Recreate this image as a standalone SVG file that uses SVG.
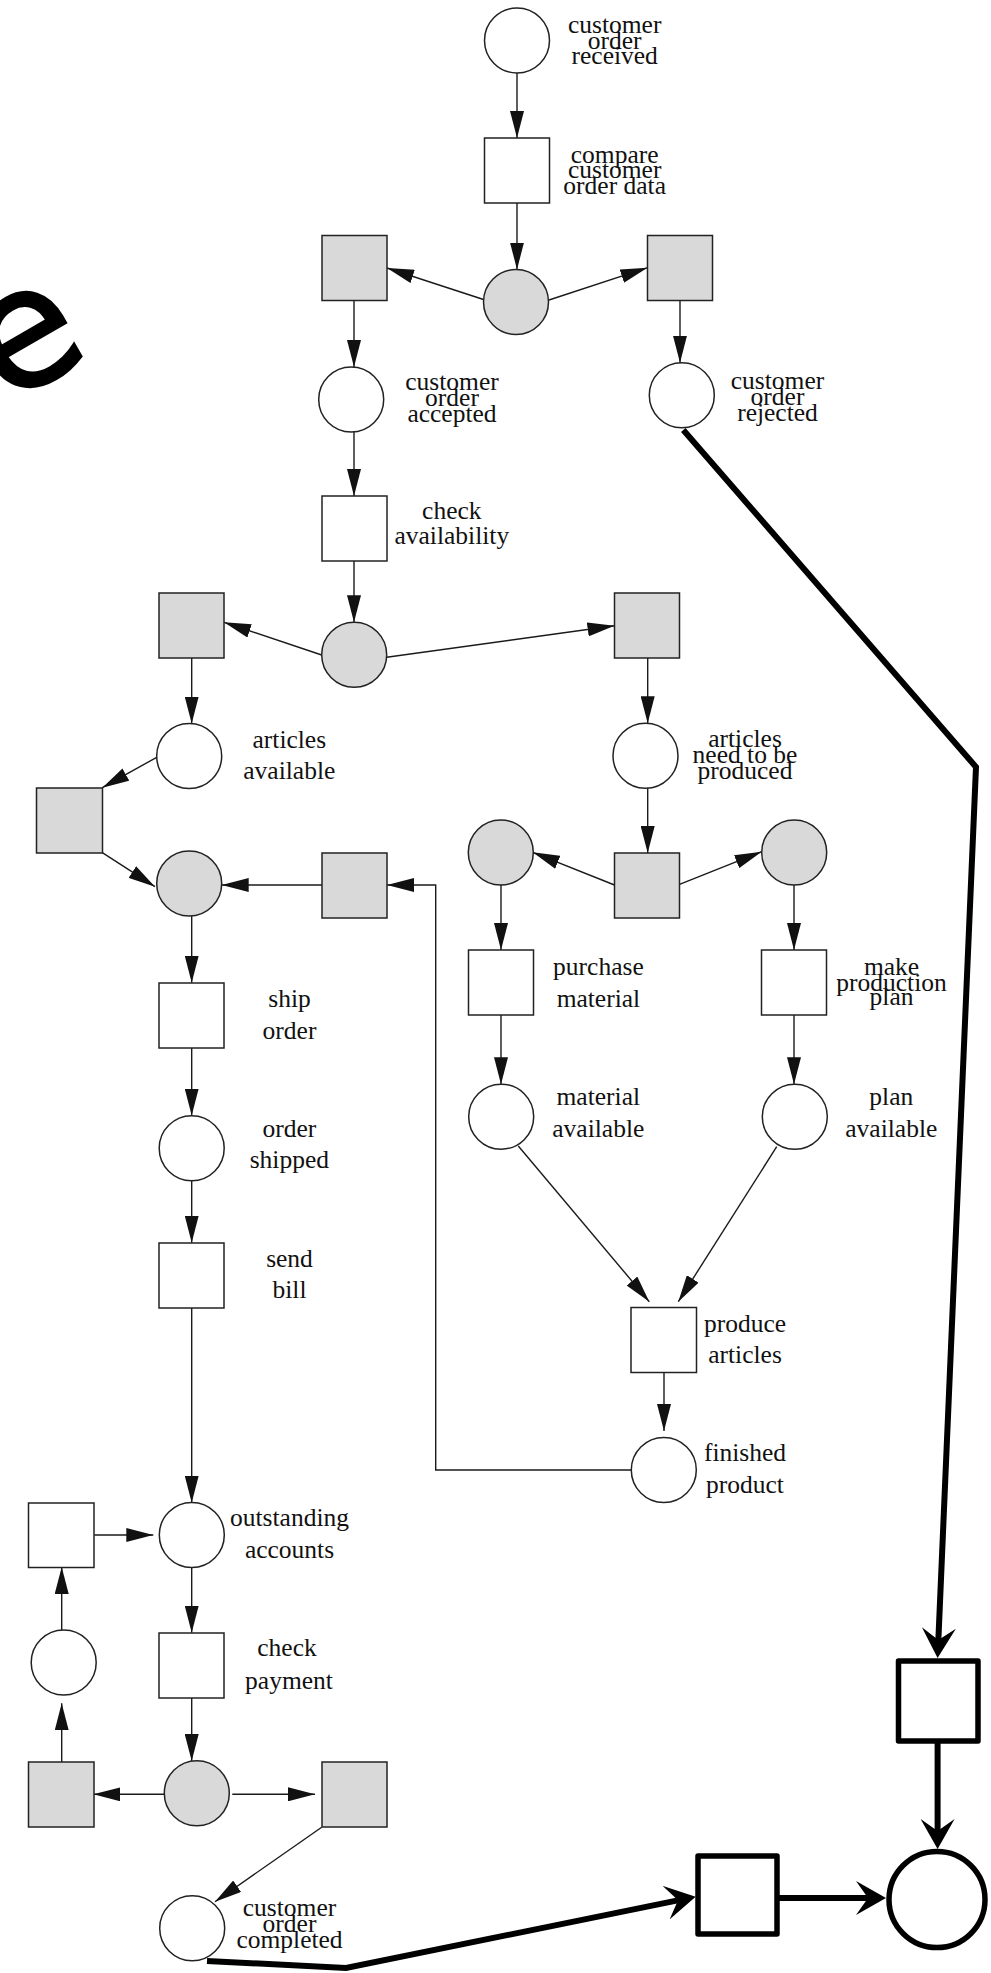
<svg xmlns="http://www.w3.org/2000/svg" width="991" height="1973" viewBox="0 0 991 1973">
<style>
.p{fill:#fff;stroke:#222;stroke-width:1.5}
.g{fill:#d9d9d9;stroke:#222;stroke-width:1.5}
.a{fill:none;stroke:#1a1a1a;stroke-width:1.4}
.k{fill:none;stroke:#000;stroke-width:6;stroke-linejoin:miter}
.kn{fill:#fff;stroke:#000;stroke-width:5.5;stroke-linejoin:round}
text{font-family:"Liberation Serif","Times New Roman",serif;font-size:25.5px;fill:#111;text-anchor:middle}
.big{font-family:"DejaVu Sans",sans-serif;font-size:165px;fill:#000;stroke:#000;stroke-width:3;text-anchor:start}
</style>
<defs>
<marker id="ar" markerUnits="userSpaceOnUse" markerWidth="28" markerHeight="14" refX="27" refY="7" orient="auto" viewBox="0 0 28 14">
<path d="M0,0 L27,7 L0,14 z" fill="#111"/>
</marker>
<marker id="ak" markerUnits="userSpaceOnUse" markerWidth="31" markerHeight="34" refX="18" refY="17" orient="auto" viewBox="0 0 31 34">
<path d="M0,0 L30,17 L0,34 L12,17 z" fill="#000"/>
</marker>
</defs>
<rect width="991" height="1973" fill="#fff"/>
<text class="big" transform="translate(6,405) rotate(-30)">e</text>

<g id="connectors">
<path class="a" d="M517,73 L517,138" marker-end="url(#ar)"/>
<path class="a" d="M517,203 L517,269.5" marker-end="url(#ar)"/>
<path class="a" d="M483.5,299.5 L387,268" marker-end="url(#ar)"/>
<path class="a" d="M549,300 L647.5,267.7" marker-end="url(#ar)"/>
<path class="a" d="M354,300.5 L354,367" marker-end="url(#ar)"/>
<path class="a" d="M680,300.5 L680,362.7" marker-end="url(#ar)"/>
<path class="a" d="M354,432 L354,496" marker-end="url(#ar)"/>
<path class="a" d="M354,561 L354,622.3" marker-end="url(#ar)"/>
<path class="a" d="M321.7,655 L224,622.3" marker-end="url(#ar)"/>
<path class="a" d="M386.7,657.3 L614.5,625.7" marker-end="url(#ar)"/>
<path class="a" d="M191.7,658 L191.7,723.5" marker-end="url(#ar)"/>
<path class="a" d="M647.7,658 L647.7,723.3" marker-end="url(#ar)"/>
<path class="a" d="M156.7,757.3 L102.3,787.7" marker-end="url(#ar)"/>
<path class="a" d="M102.3,852.7 L155,886.7" marker-end="url(#ar)"/>
<path class="a" d="M322,885 L221.7,885" marker-end="url(#ar)"/>
<path class="a" d="M631,1470 L435.7,1470 L435.7,885 L387,885" marker-end="url(#ar)"/>
<path class="a" d="M647.7,788.3 L647.7,853" marker-end="url(#ar)"/>
<path class="a" d="M614.5,885 L532.7,852.3" marker-end="url(#ar)"/>
<path class="a" d="M679.5,884.3 L761.7,851.7" marker-end="url(#ar)"/>
<path class="a" d="M501,885 L501,950" marker-end="url(#ar)"/>
<path class="a" d="M794,885 L794,950" marker-end="url(#ar)"/>
<path class="a" d="M501,1015 L501,1084.3" marker-end="url(#ar)"/>
<path class="a" d="M794,1015 L794,1084.3" marker-end="url(#ar)"/>
<path class="a" d="M518.3,1146 L649.3,1301.7" marker-end="url(#ar)"/>
<path class="a" d="M776.7,1146.7 L678.3,1301.7" marker-end="url(#ar)"/>
<path class="a" d="M664,1372.7 L664,1431" marker-end="url(#ar)"/>
<path class="a" d="M191.7,916 L191.7,982.7" marker-end="url(#ar)"/>
<path class="a" d="M191.7,1048 L191.7,1115.5" marker-end="url(#ar)"/>
<path class="a" d="M191.7,1181 L191.7,1242.7" marker-end="url(#ar)"/>
<path class="a" d="M191.7,1308 L191.7,1502.7" marker-end="url(#ar)"/>
<path class="a" d="M94.3,1535 L153.3,1535" marker-end="url(#ar)"/>
<path class="a" d="M191.7,1567.5 L191.7,1632.7" marker-end="url(#ar)"/>
<path class="a" d="M61.7,1630 L61.7,1567" marker-end="url(#ar)"/>
<path class="a" d="M61.7,1762 L61.7,1703.3" marker-end="url(#ar)"/>
<path class="a" d="M191.7,1698 L191.7,1761" marker-end="url(#ar)"/>
<path class="a" d="M164.3,1794.3 L93.3,1794.3" marker-end="url(#ar)"/>
<path class="a" d="M232.3,1794.3 L315,1794.3" marker-end="url(#ar)"/>
<path class="a" d="M321.7,1827.3 L215,1901.7" marker-end="url(#ar)"/>
<path class="k" d="M683.3,430 L976,767 L938.1,1646" marker-end="url(#ak)"/>
<path class="k" d="M937.6,1741 L937.6,1837" marker-end="url(#ak)"/>
<path class="k" d="M777.5,1898 L874,1898" marker-end="url(#ak)"/>
<path class="k" d="M207,1961 L346,1968 L683.9,1899.1" marker-end="url(#ak)"/>
</g>

<g id="p-received"><circle class="p" cx="517" cy="40.5" r="32.5"/><text x="614.7" y="33.3">customer</text><text x="614.7" y="49.3">order</text><text x="614.7" y="64.3">received</text></g>
<g id="t-compare"><rect class="p" x="484.5" y="138" width="65" height="65"/><text x="614.7" y="162.7">compare</text><text x="614.7" y="178.3">customer</text><text x="614.7" y="194">order data</text></g>
<g id="g1"><circle class="g" cx="516" cy="302" r="32.5"/></g>
<g id="s1l"><rect class="g" x="322" y="235.5" width="65" height="65"/></g>
<g id="s1r"><rect class="g" x="647.5" y="235.5" width="65" height="65"/></g>
<g id="p-accepted"><circle class="p" cx="351.2" cy="399.5" r="32.5"/><text x="452" y="390">customer</text><text x="452" y="406">order</text><text x="452" y="421.7">accepted</text></g>
<g id="p-rejected"><circle class="p" cx="681.8" cy="395.2" r="32.5"/><text x="777.5" y="389.3">customer</text><text x="777.5" y="405">order</text><text x="777.5" y="421">rejected</text></g>
<g id="t-check"><rect class="p" x="322" y="496" width="65" height="65"/><text x="451.8" y="519.3">check</text><text x="451.8" y="544">availability</text></g>
<g id="g2"><circle class="g" cx="354.2" cy="654.8" r="32.5"/></g>
<g id="s2l"><rect class="g" x="159" y="593" width="65" height="65"/></g>
<g id="s2r"><rect class="g" x="614.5" y="593" width="65" height="65"/></g>
<g id="p-avail"><circle class="p" cx="189.2" cy="756" r="32.5"/><text x="289.3" y="747.7">articles</text><text x="289.3" y="779.3">available</text></g>
<g id="p-need"><circle class="p" cx="645.5" cy="755.8" r="32.5"/><text x="745" y="746.7">articles</text><text x="745" y="762.7">need to be</text><text x="745" y="779">produced</text></g>
<g id="s3"><rect class="g" x="36.5" y="788" width="66" height="65"/></g>
<g id="g3"><circle class="g" cx="189.2" cy="883.5" r="32.5"/></g>
<g id="s4"><rect class="g" x="322" y="853" width="65" height="65"/></g>
<g id="s5"><rect class="g" x="614.5" y="853" width="65" height="65"/></g>
<g id="g4"><circle class="g" cx="500.8" cy="852.5" r="32.5"/></g>
<g id="g5"><circle class="g" cx="794.2" cy="852.5" r="32.5"/></g>
<g id="t-purchase"><rect class="p" x="468.5" y="950" width="65" height="65"/><text x="598.4" y="975">purchase</text><text x="598.4" y="1006.7">material</text></g>
<g id="t-make"><rect class="p" x="761.5" y="950" width="65" height="65"/><text x="891.5" y="975">make</text><text x="891.5" y="990.7">production</text><text x="891.5" y="1005">plan</text></g>
<g id="p-material"><circle class="p" cx="501.2" cy="1116.7" r="32.5"/><text x="598.3" y="1105">material</text><text x="598.3" y="1136.7">available</text></g>
<g id="p-plan"><circle class="p" cx="794.8" cy="1116.7" r="32.5"/><text x="891.3" y="1105">plan</text><text x="891.3" y="1136.7">available</text></g>
<g id="t-produce"><rect class="p" x="631" y="1307.5" width="65.5" height="65"/><text x="745" y="1331.7">produce</text><text x="745" y="1363.3">articles</text></g>
<g id="p-finished"><circle class="p" cx="663.8" cy="1470" r="32.5"/><text x="745" y="1460.7">finished</text><text x="745" y="1493.3">product</text></g>
<g id="t-ship"><rect class="p" x="159" y="983" width="65" height="65"/><text x="289.5" y="1006.7">ship</text><text x="289.5" y="1039.3">order</text></g>
<g id="p-shipped"><circle class="p" cx="191.7" cy="1148.2" r="32.5"/><text x="289.3" y="1136.7">order</text><text x="289.3" y="1168.3">shipped</text></g>
<g id="t-bill"><rect class="p" x="159" y="1243" width="65" height="65"/><text x="289.5" y="1266.7">send</text><text x="289.5" y="1298.3">bill</text></g>
<g id="p-outstanding"><circle class="p" cx="191.8" cy="1535" r="32.5"/><text x="289.5" y="1526">outstanding</text><text x="289.5" y="1558.3">accounts</text></g>
<g id="t-left"><rect class="p" x="28.5" y="1503" width="65.5" height="64.5"/></g>
<g id="p-left"><circle class="p" cx="63.7" cy="1662.5" r="32.5"/></g>
<g id="t-checkpay"><rect class="p" x="159" y="1633" width="65" height="65"/><text x="287" y="1656">check</text><text x="289" y="1689.3">payment</text></g>
<g id="g6"><circle class="g" cx="196.8" cy="1793.2" r="32.5"/></g>
<g id="s6l"><rect class="g" x="28.5" y="1762" width="65.5" height="65"/></g>
<g id="s6r"><rect class="g" x="322" y="1762" width="65" height="65"/></g>
<g id="p-completed"><circle class="p" cx="192.2" cy="1928.2" r="32.5"/><text x="289.5" y="1916">customer</text><text x="289.5" y="1931.7">order</text><text x="289.5" y="1947.7">completed</text></g>
<g id="k-square1"><rect class="kn" x="898.5" y="1661" width="79.5" height="80"/></g>
<g id="k-circle"><circle class="kn" cx="937" cy="1899.5" r="48"/></g>
<g id="k-square2"><rect class="kn" x="698" y="1856" width="79" height="78"/></g>
</svg>
